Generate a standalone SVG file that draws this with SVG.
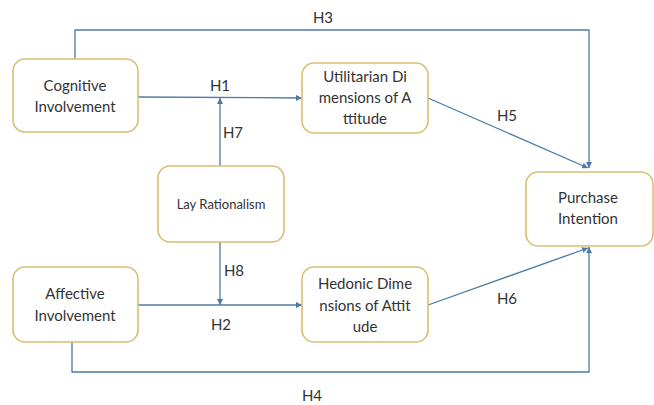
<svg xmlns="http://www.w3.org/2000/svg" width="654" height="405" viewBox="0 0 654 405">
<defs>
<marker id="ah" viewBox="0 0 10 10" refX="10" refY="5" markerWidth="6" markerHeight="6" orient="auto" markerUnits="userSpaceOnUse">
<path d="M0,0 L10,5 L0,10 z" fill="#4A7BA6"/>
</marker>
<style>
.box{fill:#fff;stroke:#D9BE72;stroke-width:1.6}
.t{font-family:Lato,"Open Sans","Liberation Sans",sans-serif;font-size:15px;fill:#333;text-anchor:middle}
.s{font-size:13px}
.c{fill:none;stroke:#4A7BA6;stroke-width:1.3}
</style>
</defs>
<rect width="654" height="405" fill="#fff"/>
<g id="connectors">
<path class="c" d="M75,59 V30 H589 V168" marker-end="url(#ah)"/>
<path class="c" d="M138,97 L302,98" marker-end="url(#ah)"/>
<path class="c" d="M220,166 V98" marker-end="url(#ah)"/>
<path class="c" d="M220,242 V305" marker-end="url(#ah)"/>
<path class="c" d="M138,305 H302" marker-end="url(#ah)"/>
<path class="c" d="M428,98 L588,168" marker-end="url(#ah)"/>
<path class="c" d="M428,305 L588,248" marker-end="url(#ah)"/>
<path class="c" d="M72,342 V372 H589 V247" marker-end="url(#ah)"/>
<text class="t" x="323" y="23">H3</text>
<text class="t" x="220" y="91">H1</text>
<text class="t" x="233" y="138">H7</text>
<text class="t" x="507" y="121">H5</text>
<text class="t" x="234" y="276">H8</text>
<text class="t" x="221" y="330">H2</text>
<text class="t" x="507" y="304">H6</text>
<text class="t" x="312" y="401">H4</text>
</g>
<g id="cognitive">
<rect class="box" x="13" y="59" width="125" height="73" rx="12"/>
<text class="t" x="75" y="91">Cognitive</text>
<text class="t" x="75" y="112">Involvement</text>
</g>
<g id="utilitarian">
<rect class="box" x="302" y="63" width="126" height="70" rx="12"/>
<text class="t" x="365" y="82">Utilitarian Di</text>
<text class="t" x="365" y="103">mensions of A</text>
<text class="t" x="365" y="124">ttitude</text>
</g>
<g id="lay">
<rect class="box" x="158" y="166" width="126" height="76" rx="12"/>
<text class="t s" x="221" y="209">Lay Rationalism</text>
</g>
<g id="purchase">
<rect class="box" x="526" y="172" width="127" height="74" rx="12"/>
<text class="t" x="588" y="203">Purchase</text>
<text class="t" x="588" y="224">Intention</text>
</g>
<g id="affective">
<rect class="box" x="13" y="267" width="125" height="75" rx="12"/>
<text class="t" x="75" y="299">Affective</text>
<text class="t" x="75" y="321">Involvement</text>
</g>
<g id="hedonic">
<rect class="box" x="302" y="267" width="126" height="75" rx="12"/>
<text class="t" x="365" y="289">Hedonic Dime</text>
<text class="t" x="365" y="311">nsions of Attit</text>
<text class="t" x="365" y="332">ude</text>
</g>
</svg>
